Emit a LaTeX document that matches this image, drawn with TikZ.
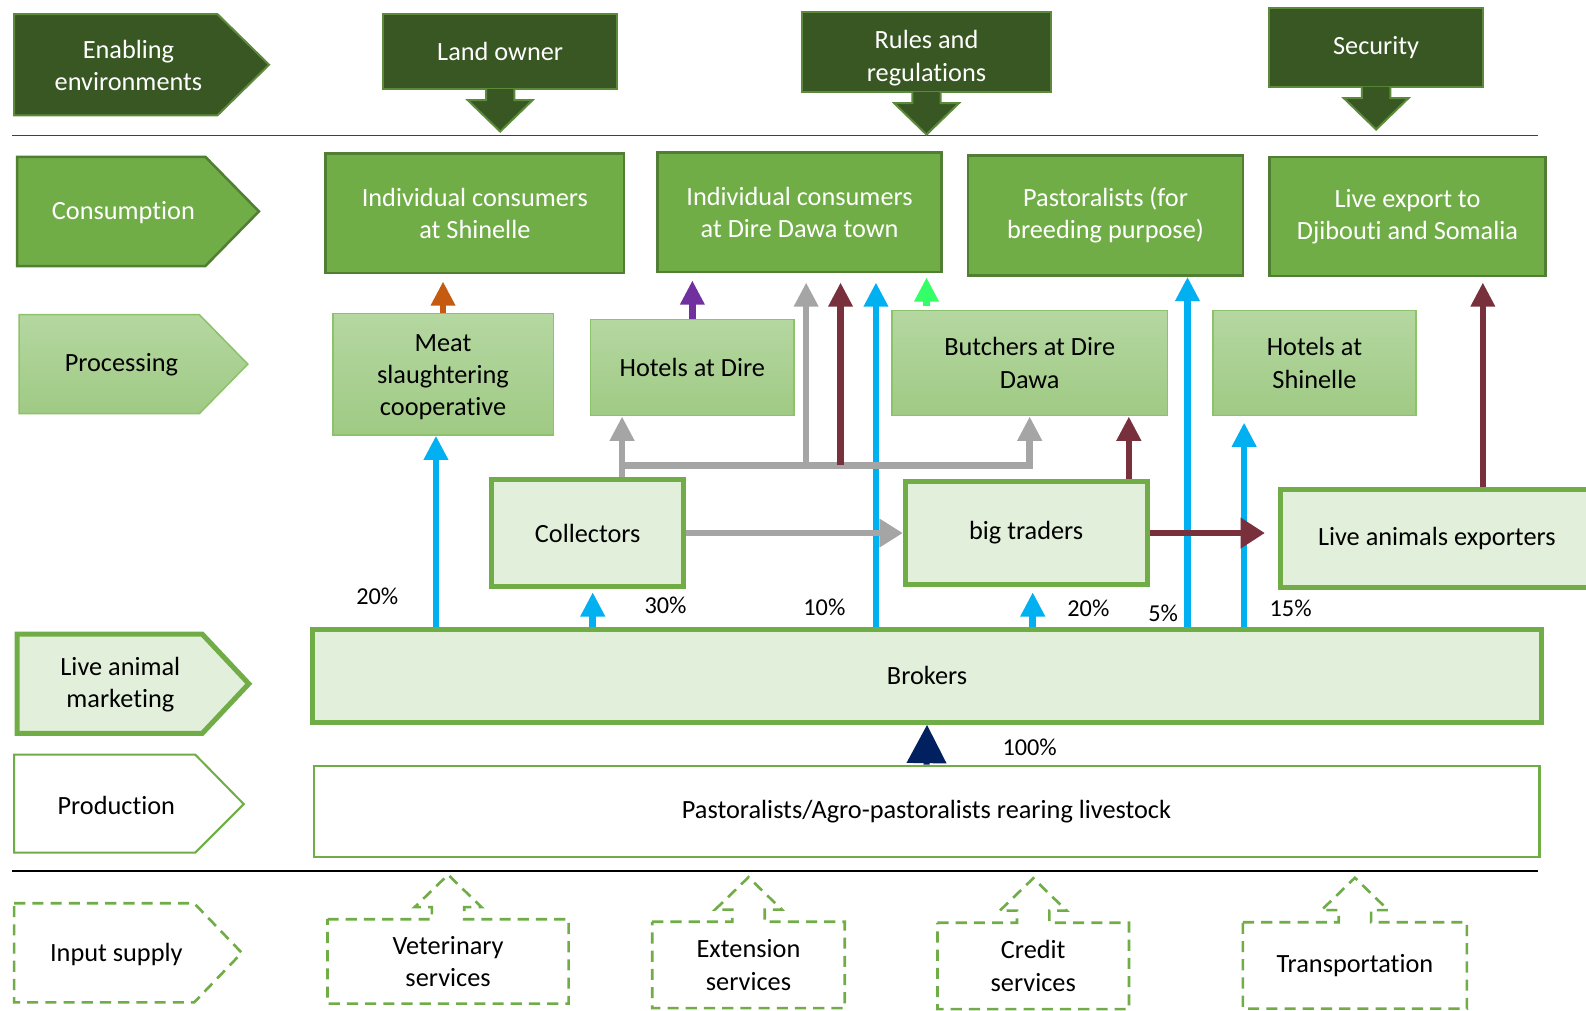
\documentclass[tikz,border=0pt]{standalone}
\usepackage{fontspec}
\setmainfont{Carlito}[Ligatures=NoCommon]
\usetikzlibrary{arrows.meta,calc}
\definecolor{dkfill}{HTML}{385723}
\definecolor{dkdraw}{HTML}{5A8A3A}
\definecolor{medg}{HTML}{70AD47}
\definecolor{medgd}{HTML}{507E32}
\definecolor{procT}{HTML}{B5D7A1}
\definecolor{procB}{HTML}{9FCA84}
\definecolor{procD}{HTML}{8CC26A}
\definecolor{lightg}{HTML}{E2EFDA}
\definecolor{cyanA}{HTML}{00B0F0}
\definecolor{grayA}{HTML}{A5A5A5}
\definecolor{maroonA}{HTML}{78303D}
\definecolor{orangeA}{HTML}{C55A11}
\definecolor{purpleA}{HTML}{7030A0}
\definecolor{greenA}{HTML}{33FF66}
\definecolor{navyA}{HTML}{002060}
\tikzset{
  txt/.style={font=\fontsize{26}{32}\selectfont, align=center, inner sep=0pt},
  dkbox/.style={txt, draw=dkdraw, fill=dkfill, line width=2pt, text=white},
  dkshape/.style={draw=dkdraw, fill=dkfill, line width=2pt},
  consbox/.style={txt, draw=medgd, fill=medg, line width=2.5pt, text=white},
  consshape/.style={draw=medgd, fill=medg, line width=2.5pt},
  procbox/.style={txt, draw=procD, top color=procT, bottom color=procB, line width=1.5pt},
  procshape/.style={draw=procD, top color=procT, bottom color=procB, line width=1.5pt},
  litbox/.style={txt, draw=medg, fill=lightg, line width=5pt},
  litshape/.style={draw=medg, fill=lightg, line width=5pt},
  whbox/.style={txt, draw=medg, fill=white, line width=2pt},
  whshape/.style={draw=medg, fill=white, line width=2pt},
  dshbox/.style={txt},
  dshshape/.style={draw=medg, line width=2.6pt, dash pattern=on 11pt off 7pt},
  pct/.style={font=\fontsize{24}{28}\selectfont, inner sep=0pt},
  arr/.style={line width=6.5pt, -{Triangle[width=23pt,length=24pt]}},
  cyarr/.style={arr, draw=cyanA},
  grarr/.style={arr, draw=grayA},
  mrarr/.style={arr, draw=maroonA},
}
\newcommand\dkdown[1]{%
  \filldraw[dkshape] ($(#1.south)+(-14,-1)$) -- ($(#1.south)+(-14,10)$) -- ($(#1.south)+(-32,10)$) -- ($(#1.south)+(0,41)$) -- ($(#1.south)+(32,10)$) -- ($(#1.south)+(14,10)$) -- ($(#1.south)+(14,-1)$);}
\newcommand\dshcallout[1]{%
  \draw[dshshape] (#1.north west) -- ($(#1.north)+(-16,0)$) -- ($(#1.north)+(-16,-12)$) -- ($(#1.north)+(-33,-12)$) -- ($(#1.north)+(0,-44)$) -- ($(#1.north)+(33,-12)$) -- ($(#1.north)+(16,-12)$) -- ($(#1.north)+(16,0)$) -- (#1.north east) -- (#1.south east) -- (#1.south west) -- cycle;}
\begin{document}
\begin{tikzpicture}[x=1pt,y=-1pt]
\useasboundingbox[fill=white] (0,0) rectangle (1568,999);

% ---- rules
\draw[line width=1.5pt, draw=black!75] (12,134) -- (1521,134);
\draw[line width=1.5pt, draw=black] (12,861) -- (1521,861);

% ---- left stage labels
\filldraw[dkshape] (14,14) -- (215,14) -- (266,64) -- (215,114) -- (14,114) -- cycle;
\node[txt, text=white] (env) at (127,65) {Enabling\\environments};
\filldraw[consshape] (17,155) -- (203,155) -- (256,209) -- (203,263) -- (17,263) -- cycle;
\node[txt, text=white] (cons) at (122,210) {Consumption};
\filldraw[procshape] (19,311) -- (197,311) -- (245,360) -- (197,409) -- (19,409) -- cycle;
\node[txt] (proc) at (120,361) {Processing};
\filldraw[litshape] (17,627) -- (200,627) -- (246,676) -- (200,725) -- (17,725) -- cycle;
\node[txt] (lam) at (119,677) {Live animal\\marketing};
\filldraw[whshape] (14,746) -- (193,746) -- (241,795) -- (193,843) -- (14,843) -- cycle;
\node[txt] (prod) at (115,796) {Production};
\draw[dshshape] (14,893) -- (192,893) -- (239,942) -- (192,991) -- (14,991) -- cycle;
\node[txt] (inp) at (115,944) {Input supply};

% ---- enabling environment boxes
\node[dkbox, minimum width=231pt, minimum height=74pt] (land) at (494.5,51) {Land owner};
\node[dkbox, minimum width=246pt, minimum height=79pt,
      label={[txt, text=white, yshift=-6pt]center:{Rules and\\regulations}}] (rules) at (916,51.5) {};
\node[dkbox, minimum width=211pt, minimum height=78pt] (secu) at (1360.5,47) {Security};
\dkdown{land}
\dkdown{rules}
\dkdown{secu}

% ---- consumption
\node[consbox, minimum width=295pt, minimum height=118pt] (ics) at (469.5,211) {Individual consumers\\at Shinelle};
\node[consbox, minimum width=281pt, minimum height=118pt] (icd) at (790.5,210) {Individual consumers\\at Dire Dawa town};
\node[consbox, minimum width=272pt, minimum height=119pt] (pbp) at (1093,213) {Pastoralists (for\\breeding purpose)};
\node[consbox, minimum width=273pt, minimum height=118pt] (led) at (1391.5,214) {Live export to\\Djibouti and Somalia};

% ---- processing
\node[procbox, minimum width=218pt, minimum height=120pt,
      label={[txt, yshift=-3pt]center:{Meat\\slaughtering\\cooperative}}] (meat) at (438,370) {};
\node[procbox, minimum width=201pt, minimum height=95pt] (hdire) at (684.5,363.5) {Hotels at Dire};
\node[procbox, minimum width=272pt, minimum height=104pt] (butch) at (1018,359) {Butchers at Dire\\Dawa};
\node[procbox, minimum width=201pt, minimum height=104pt] (hshin) at (1299.5,359) {Hotels at\\Shinelle};

% ---- traders
\node[litbox, minimum width=190pt, minimum height=106pt] (coll) at (581,527) {Collectors};
\node[litbox, minimum width=239pt, minimum height=102pt] (bigt) at (1014.5,527) {big traders};
\node[litbox, minimum width=309pt, minimum height=97pt] (lae) at (1420.5,532.5) {Live animals exporters};

% ---- brokers & production
\node[litbox, minimum width=1215pt, minimum height=92pt] (brok) at (916.5,668) {Brokers};
\node[whbox, minimum width=1212pt, minimum height=90pt] (pag) at (916,802) {Pastoralists/Agro-pastoralists rearing livestock};

% ---- input supply callouts
\node[dshbox, minimum width=238pt, minimum height=83pt] (vet) at (443,950.5) {Veterinary\\services};
\node[dshbox, minimum width=190pt, minimum height=85pt] (ext) at (740,954) {Extension\\services};
\node[dshbox, minimum width=189pt, minimum height=85pt] (cred) at (1021.5,955) {Credit\\services};
\node[dshbox, minimum width=221pt, minimum height=85pt] (trans) at (1339.5,954.5) {Transportation};
\dshcallout{vet}
\dshcallout{ext}
\dshcallout{cred}
\dshcallout{trans}

% ---- connectors
\coordinate (xa) at (431,0);
\coordinate (xb) at (586,0);
\coordinate (xc) at (866,0);
\coordinate (xd) at (1021,0);
\coordinate (xe) at (1174,0);
\coordinate (xf) at (1230,0);
\draw[cyarr] (brok.north -| xa) -- (meat.south -| xa);
\draw[cyarr, shorten >=3pt] (brok.north -| xb) -- (coll.south -| xb);
\draw[cyarr, shorten >=9pt] (brok.north -| xc) -- (icd.south -| xc);
\draw[cyarr, shorten >=5pt] (brok.north -| xd) -- (bigt.south -| xd);
\draw[cyarr] (brok.north -| xe) -- (pbp.south -| xe);
\draw[cyarr, shorten >=6pt] (brok.north -| xf) -- (hshin.south -| xf);

\draw[arr, draw=orangeA, shorten >=7pt] (meat.north) -- (meat.north |- ics.south);
\draw[arr, draw=purpleA, shorten >=7pt] (hdire.north) -- (hdire.north |- icd.south);
\coordinate (xg) at (916,303);
\draw[arr, draw=greenA, shorten >=4pt] (xg) -- (xg |- icd.south);

\coordinate (gx) at (615,460);
\draw[grarr] (coll.north -| gx) -- (hdire.south -| gx);
\draw[grarr] (gx) -| (butch.south);
\coordinate (gy) at (797,460);
\draw[grarr, shorten >=9pt] (gy) -- (gy |- icd.south);
\coordinate (my) at (831,460);
\draw[mrarr, shorten >=9pt] (my) -- (my |- icd.south);

\draw[arr, draw=grayA, -{Triangle[width=27pt,length=23pt]}] (coll.east) -- (bigt.west);
\draw[arr, draw=maroonA, -{Triangle[width=29pt,length=24pt]}, shorten >=13pt] (bigt.east) -- (bigt.east -| lae.west);
\coordinate (xm) at (1116,0);
\draw[mrarr] (bigt.north -| xm) -- (butch.south -| xm);
\coordinate (xn) at (1466,0);
\draw[mrarr, shorten >=5pt] (lae.north -| xn) -- (led.south -| xn);

\draw[line width=6pt, draw=navyA, -{Triangle[width=38pt,length=38pt]}] (pag.north) -- (brok.south);

% ---- percentages
\node[pct] (p1) at (373,590) {20\%};
\node[pct] (p2) at (658,598) {30\%};
\node[pct] (p3) at (815,600) {10\%};
\node[pct] (p4) at (1076,601) {20\%};
\node[pct] (p5) at (1150,606) {5\%};
\node[pct] (p6) at (1276,601) {15\%};
\node[pct] (p7) at (1018,739) {100\%};
\end{tikzpicture}
\end{document}
